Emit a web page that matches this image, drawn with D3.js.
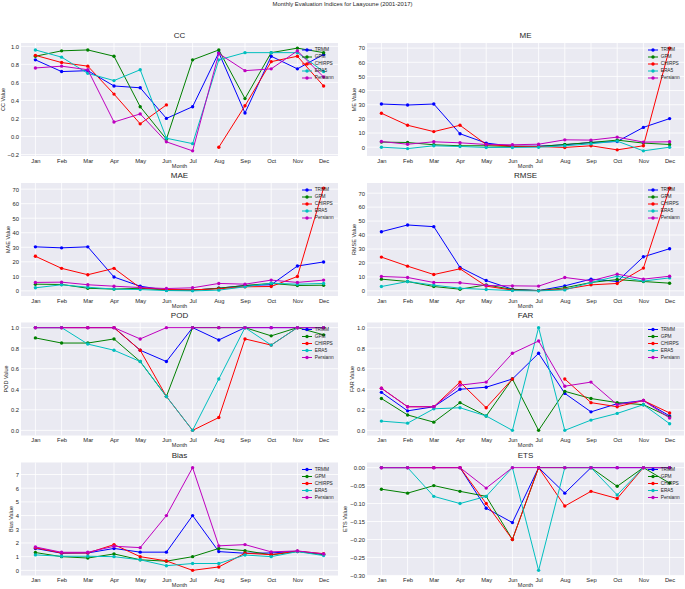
<!DOCTYPE html>
<html>
<head>
<meta charset="utf-8">
<script src="https://cdn.jsdelivr.net/npm/d3@7"></script>
<style>
  html, body { margin: 0; padding: 0; background: #ffffff; }
  svg { display: block; font-family: "Liberation Sans", Arial, sans-serif; }
</style>
</head>
<body>
<svg id="chart" width="685" height="589"></svg>
<script>
// ---------- DATA ----------
const months = ["Jan","Feb","Mar","Apr","May","Jun","Jul","Aug","Sep","Oct","Nov","Dec"];
const seriesNames = ["TRMM","GPM","CHIRPS","ERA5","Persiann"];
const seriesColors = ["#0000ff","#008000","#ff0000","#00bfbf","#bf00bf"];

// rows: TRMM, GPM, CHIRPS, ERA5, Persiann
const ccValues = [
  [0.85,0.72,0.73,0.56,0.54,0.20,0.33,0.93,0.26,0.89,0.75,0.91],
  [0.89,0.95,0.96,0.89,0.33,-0.03,0.85,0.96,0.42,0.93,0.98,0.93],
  [0.90,0.82,0.78,0.47,0.14,0.35,null,-0.12,0.34,0.83,0.89,0.56],
  [0.96,0.88,0.70,0.62,0.74,-0.02,-0.08,0.85,0.93,0.93,0.93,0.72],
  [0.76,0.78,0.74,0.16,0.25,-0.06,-0.16,0.92,0.73,0.75,0.95,0.66]
];
const meValues = [
  [30.5,29.8,30.5,9.5,2.9,0.7,0.7,1.7,3.3,4.0,14.0,20.2],
  [3.6,3.3,1.7,1.0,1.0,0.5,0.5,1.9,3.3,5.0,2.9,1.9],
  [24.0,15.5,11.0,15.5,1.9,0.7,0.5,-0.2,1.0,-1.9,1.0,70.0],
  [0.0,-1.0,1.0,0.5,-0.2,-0.2,0.0,1.0,2.4,4.3,-2.6,0.0],
  [4.0,2.1,3.8,3.1,1.9,1.7,2.1,5.2,5.0,7.1,3.6,3.8]
];
const maeValues = [
  [30.3,29.6,30.3,9.5,3.2,0.5,0.5,1.8,3.7,4.2,17.1,19.9],
  [4.6,4.4,1.8,1.2,1.8,0.5,0.5,1.8,3.7,5.1,3.7,3.9],
  [23.8,15.5,11.1,15.5,2.1,0.9,0.7,1.4,2.8,3.0,9.9,70.7],
  [2.1,4.2,2.5,1.2,0.9,0.2,0.0,0.5,2.8,5.3,4.6,5.1],
  [5.8,6.0,4.2,3.2,2.3,1.6,2.1,5.1,4.6,7.4,5.8,7.4]
];
const rmseValues = [
  [42.4,47.2,46.0,16.8,7.4,1.2,0.2,3.6,8.4,6.7,24.4,30.2],
  [8.4,6.7,3.1,1.2,4.3,1.0,0.2,2.2,6.0,8.1,6.7,5.5],
  [24.2,17.7,11.7,15.8,3.4,0.5,0.2,1.2,4.3,5.3,16.3,73.6],
  [3.1,6.7,4.1,1.9,1.0,0.2,0.0,0.7,6.0,10.5,7.0,9.3],
  [10.3,9.6,6.0,5.8,3.8,3.6,3.4,9.6,7.2,12.0,8.4,10.5]
];
const podValues = [
  [1,1,1,1,0.78,0.67,1,0.88,1,1,1,1],
  [0.90,0.85,0.85,0.89,0.67,0.33,1,1,1,0.92,1,0.93],
  [1,1,1,1,0.78,0.33,0,0.125,0.89,0.83,1,1],
  [1,1,0.84,0.78,0.67,0.33,0,0.50,1,0.83,1,1],
  [1,1,1,1,0.89,1,1,1,1,1,1,1]
];
const farValues = [
  [0.37,0.19,0.23,0.40,0.42,0.50,0.75,0.36,0.18,0.26,0.29,0.14],
  [0.31,0.15,0.08,0.27,0.14,0.50,0.00,0.38,0.31,0.27,0.25,0.13],
  [0.41,0.23,0.23,0.47,0.22,0.50,null,0.50,0.27,0.23,0.29,0.17],
  [0.09,0.07,0.21,0.22,0.14,0.00,1.00,0.00,0.10,0.165,0.25,0.065],
  [0.41,0.23,0.23,0.44,0.47,0.75,0.87,0.43,0.47,0.25,0.29,0.12]
];
const biasValues = [
  [1.60,1.25,1.27,1.60,1.33,1.33,4.00,1.37,1.25,1.27,1.40,1.15],
  [1.30,1.00,0.90,1.20,0.77,0.67,1.00,1.60,1.44,1.13,1.38,1.15],
  [1.65,1.27,1.27,1.88,1.00,0.69,0.00,0.25,1.25,1.15,1.40,1.22],
  [1.13,1.03,1.03,1.00,0.77,0.34,0.50,0.50,1.12,1.00,1.37,1.08],
  [1.71,1.32,1.32,1.76,1.66,4.00,7.50,1.79,1.88,1.35,1.42,1.20]
];
const etsValues = [
  [0,0,0,0,-0.113,-0.153,0,-0.071,0,0,0,0],
  [-0.060,-0.071,-0.050,-0.066,-0.080,-0.200,0,0,0,-0.052,0,-0.043],
  [0,0,0,0,-0.100,-0.200,0,-0.107,-0.066,-0.086,0,0],
  [0,0,-0.080,-0.100,-0.080,0,-0.286,0,0,-0.076,0,0],
  [0,0,0,0,-0.057,0,0,0,0,0,0,0]
];

// tick labels
const ccTicks = [-0.2,0.0,0.2,0.4,0.6,0.8,1.0];
const errTicks = [0,10,20,30,40,50,60,70];
const rateTicks = [0.0,0.2,0.4,0.6,0.8,1.0];
const biasTicks = [0,1,2,3,4,5,6,7];
const etsTicks = [-0.30,-0.25,-0.20,-0.15,-0.10,-0.05,0.00];

const figureTitle = "Monthly Evaluation Indices for Laayoune (2001-2017)";

// ---------- LAYOUT ----------
const panels = [
  {title:"CC",   values:ccValues,   ticks:ccTicks,   fmt:".1f", col:0, row:0},
  {title:"ME",   values:meValues,   ticks:errTicks,  fmt:"d",   col:1, row:0},
  {title:"MAE",  values:maeValues,  ticks:errTicks,  fmt:"d",   col:0, row:1},
  {title:"RMSE", values:rmseValues, ticks:errTicks,  fmt:"d",   col:1, row:1},
  {title:"POD",  values:podValues,  ticks:rateTicks, fmt:".1f", col:0, row:2},
  {title:"FAR",  values:farValues,  ticks:rateTicks, fmt:".1f", col:1, row:2},
  {title:"Bias", values:biasValues, ticks:biasTicks, fmt:"d",   col:0, row:3},
  {title:"ETS",  values:etsValues,  ticks:etsTicks,  fmt:".2f", col:1, row:3}
];

const colLeft = [21, 367];
const colRight = [338, 684];
const rowTop = [43, 183, 322.5, 462.5];
const plotH = 113;

const textColor = "#262626";
const svg = d3.select("#chart");

svg.append("text")
  .attr("x", 342.5).attr("y", 4)
  .attr("text-anchor", "middle").attr("dominant-baseline", "middle")
  .attr("font-size", 5.9).attr("fill", textColor)
  .text(figureTitle);

const minus = s => s.replace("-", "\u2212");

panels.forEach(p => {
  const left = colLeft[p.col], right = colRight[p.col];
  const top = rowTop[p.row], bottom = top + plotH;

  const x = d3.scalePoint().domain(months).range([0, 11]);
  const xs = d3.scaleLinear().domain([-0.55, 11.55]).range([left, right]);
  const X = m => xs(x(m));

  const all = p.values.flat().filter(v => v !== null);
  const lo = d3.min(all), hi = d3.max(all);
  const pad = (hi - lo) * 0.05;
  const y = d3.scaleLinear().domain([lo - pad, hi + pad]).range([bottom, top]);

  const g = svg.append("g");
  g.append("rect").attr("x", left).attr("y", top)
    .attr("width", right - left).attr("height", plotH).attr("fill", "#eaeaf2");

  const tickVals = p.ticks.filter(t => t >= y.domain()[0] - 1e-3 && t <= y.domain()[1] + 1e-3);
  // grid
  g.selectAll(".gy").data(tickVals).enter().append("line")
    .attr("x1", left).attr("x2", right)
    .attr("y1", d => y(d)).attr("y2", d => y(d))
    .attr("stroke", "#ffffff").attr("stroke-width", 0.8);
  g.selectAll(".gx").data(months).enter().append("line")
    .attr("x1", d => X(d)).attr("x2", d => X(d))
    .attr("y1", top).attr("y2", bottom)
    .attr("stroke", "#ffffff").attr("stroke-width", 0.8);

  // y axis via d3 axis
  const f = d3.format(p.fmt);
  const yAxis = d3.axisLeft(y).tickValues(tickVals).tickSize(0).tickPadding(2)
    .tickFormat(d => minus(f(d)));
  const ya = g.append("g").attr("transform", `translate(${left},0)`).call(yAxis);
  ya.select(".domain").remove();
  ya.selectAll("text").attr("font-size", 5.8).attr("fill", textColor)
    .attr("font-family", "Liberation Sans, Arial, sans-serif");

  let maxW = 0;
  ya.selectAll("text").each(function(){ maxW = Math.max(maxW, this.getComputedTextLength()); });

  // x axis
  const xAxis = d3.axisBottom(xs).tickValues(months.map(m => x(m))).tickSize(0).tickPadding(2.5)
    .tickFormat((d, i) => months[i]);
  const xa = g.append("g").attr("transform", `translate(0,${bottom})`).call(xAxis);
  xa.select(".domain").remove();
  xa.selectAll("text").attr("font-size", 5.8).attr("fill", textColor)
    .attr("font-family", "Liberation Sans, Arial, sans-serif");

  // labels
  g.append("text").attr("x", (left + right) / 2).attr("y", bottom + 10.5)
    .attr("text-anchor", "middle").attr("dominant-baseline", "middle")
    .attr("font-size", 5.5).attr("fill", textColor).text("Month");
  const lx = left - 2 - maxW - 4.5;
  g.append("text").attr("transform", `translate(${lx},${(top + bottom) / 2}) rotate(-90)`)
    .attr("text-anchor", "middle").attr("dominant-baseline", "middle")
    .attr("font-size", 5.5).attr("fill", textColor).text(p.title + " Value");
  g.append("text").attr("x", (left + right) / 2).attr("y", top - 5)
    .attr("text-anchor", "middle").attr("font-size", 8).attr("fill", textColor)
    .text(p.title);

  // series
  const line = d3.line()
    .defined(d => d.v !== null)
    .x(d => X(d.m)).y(d => y(d.v));
  p.values.forEach((vals, si) => {
    const pts = vals.map((v, i) => ({m: months[i], v}));
    g.append("path").datum(pts).attr("d", line)
      .attr("fill", "none").attr("stroke", seriesColors[si]).attr("stroke-width", 1);
    g.selectAll(null).data(pts.filter(d => d.v !== null)).enter().append("circle")
      .attr("cx", d => X(d.m)).attr("cy", d => y(d.v)).attr("r", 1.7)
      .attr("fill", seriesColors[si]);
  });

  // legend
  const lg = g.append("g");
  seriesNames.forEach((name, si) => {
    const ly = top + 7 + si * 7;
    lg.append("line").attr("x1", right - 36).attr("x2", right - 26)
      .attr("y1", ly).attr("y2", ly).attr("stroke", seriesColors[si]).attr("stroke-width", 1);
    lg.append("circle").attr("cx", right - 31).attr("cy", ly).attr("r", 1.7)
      .attr("fill", seriesColors[si]);
    lg.append("text").attr("x", right - 23.3).attr("y", ly)
      .attr("dominant-baseline", "middle").attr("font-size", 4.8).attr("fill", textColor)
      .text(name);
  });
});
</script>
</body>
</html>
